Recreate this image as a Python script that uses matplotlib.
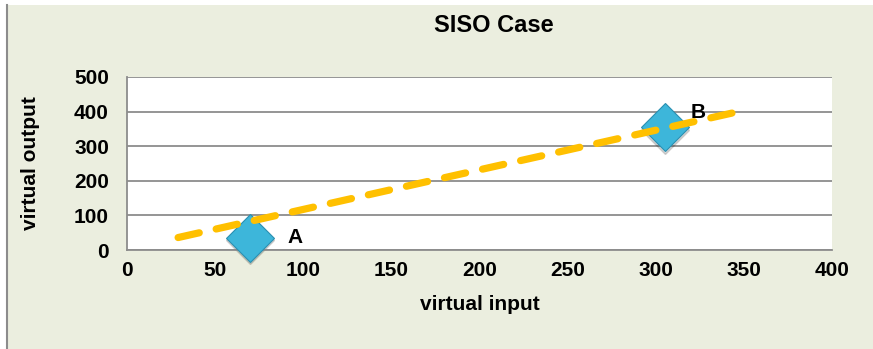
import matplotlib
matplotlib.use("Agg")
import matplotlib.pyplot as plt
from matplotlib.patches import Rectangle
from matplotlib.lines import Line2D

# Data
point_x = [70, 305]
point_y = [35, 355]
point_labels = ["A", "B"]
trend_x = [29, 347]
trend_y = [36, 400]
x_ticks = [0, 50, 100, 150, 200, 250, 300, 350, 400]
y_ticks = [0, 100, 200, 300, 400, 500]

W, H = 873, 349
fig = plt.figure(figsize=(W / 100, H / 100), dpi=100)
fig.patch.set_facecolor("white")
FONT = "Liberation Sans"

bg = "#EBEEDF"
fig.patches.append(Rectangle((7 / W, 0), 1 - 7 / W, 1 - 5 / H, transform=fig.transFigure,
                             facecolor=bg, edgecolor="none", zorder=-10))
fig.lines.append(Line2D([6.5 / W, 6.5 / W], [0, 1 - 5 / H], transform=fig.transFigure,
                        color="#8C8C8C", lw=1.5, zorder=-5))

ax = fig.add_axes([127 / W, 1 - 250 / H, (832 - 127) / W, (250 - 77) / H])
ax.set_facecolor("white")
ax.set_xlim(0, 400)
ax.set_ylim(0, 500)
ax.set_xticks(x_ticks)
ax.set_yticks(y_ticks)
ax.grid(axis="y", color="#8C8C8C", lw=1.3)
ax.set_axisbelow(True)
for s in ["top", "right"]:
    ax.spines[s].set_visible(False)
for s in ["left", "bottom"]:
    ax.spines[s].set_color("#8C8C8C")
    ax.spines[s].set_linewidth(1.3)
ax.tick_params(length=0, labelsize=15)
ax.tick_params(axis="x", pad=8)
ax.tick_params(axis="y", pad=13)
for lab in ax.get_xticklabels() + ax.get_yticklabels():
    lab.set_fontweight("bold")
    lab.set_fontfamily(FONT)

# shadows
ax.plot(point_x, [y - 7 for y in point_y], linestyle="none", marker="D", ms=24,
        color="#000000", alpha=0.15, zorder=2, clip_on=False)
ax.plot(point_x, point_y, linestyle="none", marker="D", ms=24,
        markerfacecolor="#3DB6DA", markeredgecolor="#2A8FB0", markeredgewidth=0.8,
        zorder=3, clip_on=False)
ax.plot(trend_x, trend_y, color="#FFC000", lw=5.2, dashes=(3.0, 2.4),
        dash_capstyle="round", solid_capstyle="round", zorder=4)

ax.text(point_x[0] + 21, point_y[0] + 2, point_labels[0], fontsize=15, fontweight="bold",
        family=FONT, va="center", ha="left", zorder=5)
ax.text(point_x[1] + 15, point_y[1] + 42, point_labels[1], fontsize=15, fontweight="bold",
        family=FONT, va="center", ha="left", zorder=3.5)

fig.text(494 / W, 1 - 26 / H, "SISO Case", fontsize=17, fontweight="bold", family=FONT,
         ha="center", va="center")
fig.text(480 / W, 1 - 305 / H, "virtual input", fontsize=15, fontweight="bold", family=FONT,
         ha="center", va="center")
fig.text(30 / W, 1 - 163 / H, "virtual output", fontsize=15, fontweight="bold", family=FONT,
         ha="center", va="center", rotation=90)

fig.savefig("out.png", dpi=100, facecolor=fig.get_facecolor())
